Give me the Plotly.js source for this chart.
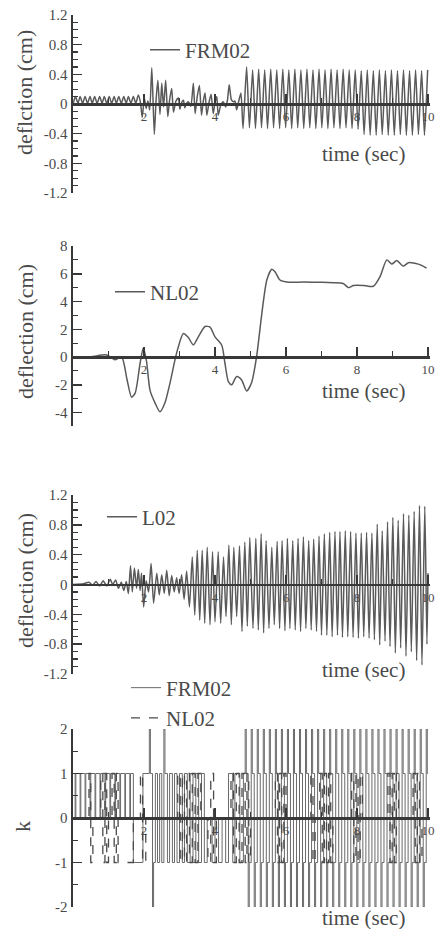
<!DOCTYPE html>
<html><head><meta charset="utf-8">
<script src="https://cdn.plot.ly/plotly-3.0.1.min.js"></script>
<style>html,body{margin:0;padding:0;background:#fff}</style>
</head><body><div id="chart" style="width:441px;height:929px"></div>
<script>
// ---------- DATA ----------
const xTickVals = [2, 4, 6, 8, 10];
const xTickText = ['2', '4', '6', '8', '10'];
const defTickVals = [-1.2, -0.8, -0.4, 0, 0.4, 0.8, 1.2];
const defTickText = ['-1.2', '-0.8', '-0.4', '0', '0.4', '0.8', '1.2'];
const nlTickVals = [-4, -2, 0, 2, 4, 6, 8];
const nlTickText = ['-4', '-2', '0', '2', '4', '6', '8'];
const kTickVals = [-2, -1, 0, 1, 2];
const kTickText = ['-2', '-1', '0', '1', '2'];

// Panel 1: FRM02 deflection (cm)
const frmT = [0, 0.07, 0.14, 0.2, 0.27, 0.34, 0.41, 0.48, 0.54, 0.61, 0.68, 0.75, 0.82, 0.88, 0.95, 1.02, 1.09, 1.16, 1.22, 1.29, 1.36, 1.43, 1.5, 1.56, 1.63, 1.7, 1.77, 1.84, 1.9,
  1.95, 2.01, 2.06, 2.11, 2.16, 2.22, 2.29, 2.34, 2.39, 2.45, 2.5, 2.55, 2.61, 2.67, 2.72, 2.78, 2.83, 2.9, 2.97, 3.01, 3.06, 3.11, 3.15, 3.2, 3.25, 3.32, 3.39, 3.44, 3.5, 3.56, 3.62, 3.67, 3.72, 3.77, 3.83, 3.89, 3.95, 4.0, 4.05, 4.09, 4.16, 4.23, 4.3, 4.35, 4.4, 4.46, 4.52, 4.56, 4.61, 4.66, 4.73, 4.79,
  4.89, 4.97, 5.06, 5.14, 5.23, 5.31, 5.4, 5.48, 5.57, 5.65, 5.74, 5.82, 5.91, 5.99, 6.08, 6.16, 6.25, 6.33, 6.42, 6.5, 6.59, 6.67, 6.76, 6.84, 6.93, 7.01, 7.1, 7.18, 7.27, 7.35, 7.44, 7.52, 7.61, 7.69, 7.78, 7.86, 7.95, 8.03, 8.12, 8.2, 8.29, 8.37, 8.46, 8.54, 8.63, 8.71, 8.8, 8.88, 8.97, 9.05, 9.14, 9.22, 9.31, 9.39, 9.48, 9.56, 9.65, 9.73, 9.82, 9.9, 9.99];
const frmY = [0, 0.1, 0.01, 0.1, 0.01, 0.1, 0.01, 0.1, 0.01, 0.1, 0.01, 0.1, 0.01, 0.1, 0.01, 0.1, 0.01, 0.1, 0.01, 0.1, 0.01, 0.1, 0.01, 0.1, 0.01, 0.1, 0.01, 0.12, 0.02,
  -0.18, 0.08, -0.06, 0.04, -0.08, 0.49, -0.41, 0.05, 0.32, -0.14, 0.28, -0.04, 0.32, -0.17, 0.05, 0.21, -0.11, 0.04, 0.08, -0.07, 0.02, 0.05, -0.05, 0.01, 0.03, -0.03, 0.28, -0.13, 0.1, 0.25, -0.15, 0.04, 0.15, -0.15, 0.02, 0.13, -0.13, 0.02, 0.1, -0.15, -0.02, 0.03, -0.04, 0.05, 0.26, 0.06, 0.03, 0.04, -0.08, 0.02, 0.15, -0.33,
  0.5, -0.32, 0.46, -0.33, 0.47, -0.32, 0.46, -0.33, 0.47, -0.32,
  0.46, -0.33, 0.47, -0.32, 0.46, -0.33, 0.47, -0.32, 0.46, -0.33,
  0.47, -0.32, 0.46, -0.33, 0.47, -0.32, 0.46, -0.33, 0.47, -0.32,
  0.46, -0.33, 0.47, -0.32, 0.46, -0.33, 0.46, -0.34, 0.45, -0.41,
  0.46, -0.42, 0.45, -0.42, 0.46, -0.41, 0.45, -0.42, 0.46, -0.42,
  0.45, -0.41, 0.46, -0.42, 0.45, -0.42, 0.46, -0.41, 0.45, -0.42,
  0.46];

// Panel 2: NL02 deflection (cm)
const nlT = [0, 0.5, 0.95, 1.18, 1.37, 1.52, 1.65, 1.75, 1.89, 1.98, 2.07, 2.17, 2.31, 2.45, 2.59, 2.73, 2.92, 3.11, 3.25, 3.39, 3.53, 3.72, 3.86, 4.0, 4.19, 4.28, 4.38, 4.47, 4.61, 4.75, 4.89, 5.03, 5.17, 5.32, 5.46, 5.6, 5.69, 5.83, 6.02, 6.5, 7.0, 7.33, 7.61, 7.76, 7.9, 8.2, 8.46, 8.65, 8.84, 8.98, 9.12, 9.3, 9.45, 9.63, 9.82, 9.96];
const nlY = [0, 0.02, 0.15, -0.2, 0, -1.6, -2.9, -2.6, -0.45, 0.65, -0.3, -2.4, -3.3, -3.95, -3.3, -1.9, 0.3, 1.7, 1.4, 0.87, 1.45, 2.2, 2.15, 1.45, 0.85, -0.45, -1.8, -2.0, -1.4, -1.65, -2.45, -1.85, 0, 3.15, 5.55, 6.33, 6.15, 5.55, 5.4, 5.4, 5.38, 5.35, 5.3, 5.0, 5.15, 5.15, 5.1, 5.8, 7.0, 6.7, 6.95, 6.55, 6.8, 6.75, 6.6, 6.4];

// Panel 3: L02 deflection (cm)
const lT = [0, 0.3, 0.45, 0.55, 0.65, 0.75, 0.85, 0.95, 1.05, 1.12, 1.2, 1.28, 1.36, 1.43, 1.5, 1.56, 1.62, 1.67, 1.73, 1.79, 1.84, 1.89, 1.93, 1.99, 2.06, 2.13, 2.2, 2.27, 2.36, 2.43, 2.5, 2.57, 2.64, 2.71, 2.78, 2.85, 2.92, 2.99, 3.06, 3.13, 3.2, 3.28,
  3.36, 3.43, 3.5, 3.57, 3.64, 3.71, 3.78, 3.86, 3.93, 4.0, 4.09, 4.16, 4.24, 4.31, 4.39, 4.46, 4.53, 4.61, 4.69, 4.76, 4.84, 4.91, 4.98, 5.07, 5.15, 5.22, 5.3, 5.37, 5.44, 5.52, 5.6, 5.67, 5.75, 5.82, 5.89, 5.97, 6.04, 6.11, 6.19, 6.26, 6.34, 6.41, 6.49, 6.56, 6.64, 6.71, 6.78, 6.86, 6.93, 7.0, 7.08, 7.15, 7.23, 7.3, 7.38, 7.45, 7.52, 7.59, 7.67, 7.74, 7.82, 7.89, 7.97, 8.04, 8.12, 8.19, 8.27, 8.34, 8.42, 8.49, 8.57, 8.64, 8.71, 8.79, 8.86, 8.93, 9.01, 9.08, 9.16, 9.23, 9.31, 9.38, 9.46, 9.53, 9.61, 9.68, 9.76, 9.83, 9.91, 9.97, 10.0];
const lY = [0, 0.01, 0.03, -0.01, 0.04, -0.02, 0.05, -0.02, 0.07, 0.0, 0.06, -0.05, 0.03, -0.08, 0.04, -0.12, 0.25, -0.1, 0.22, -0.05, 0.2, -0.08, 0.15, -0.3, 0.05, -0.1, 0.28, -0.25, 0.15, -0.14, 0.13, -0.12, 0.19, -0.15, 0.12, -0.1, 0.09, -0.12, 0.13, -0.2, 0.18, -0.3,
  0.37, -0.41, 0.46, -0.48, 0.46, -0.52, 0.5, -0.54, 0.44, -0.5, 0.44, -0.52, 0.37, -0.43, 0.53, -0.54, 0.5, -0.43, 0.52, -0.63, 0.57, -0.56, 0.63, -0.59, 0.62, -0.61, 0.68, -0.65, 0.59, -0.59, 0.5, -0.54, 0.58, -0.59, 0.59, -0.62, 0.62, -0.59, 0.59, -0.61, 0.62, -0.63, 0.64, -0.59, 0.59, -0.61, 0.61, -0.63, 0.65, -0.68, 0.68, -0.68, 0.7, -0.7, 0.71, -0.68, 0.71, -0.71, 0.72, -0.7, 0.71, -0.71, 0.69, -0.72, 0.69, -0.7, 0.7, -0.72, 0.69, -0.74, 0.81, -0.81, 0.72, -0.76, 0.84, -0.83, 0.9, -0.92, 0.86, -0.85, 0.95, -0.96, 0.93, -0.9, 0.98, -1.02, 1.06, -1.08, 1.05, -0.8, 0.15];

// Panel 4: k (step values)
const kFrmT = [0, 0.06, 0.08, 0.2, 0.22, 0.34, 0.36, 0.48, 0.5, 0.62, 0.64, 0.76, 0.78, 0.9, 0.92, 1.04, 1.06, 1.18, 1.2, 1.32, 1.34, 1.46, 1.48, 1.6, 1.62,
  1.7, 1.97, 2.15, 2.18, 2.24, 2.27, 2.32, 2.38, 2.44, 2.5, 2.56, 2.59, 2.66, 2.72, 2.8, 2.86, 2.93, 3.0, 3.08, 3.14, 3.22, 3.3, 3.38, 3.46, 3.54, 3.62, 3.7, 3.78, 3.92, 4.0, 4.1, 4.2, 4.3, 4.38, 4.5, 4.56, 4.7, 4.8,
  4.85, 4.88, 4.935, 4.965, 5.02, 5.05, 5.105, 5.135, 5.19, 5.22, 5.275, 5.305, 5.36, 5.39, 5.445, 5.475, 5.53, 5.56, 5.615, 5.645,
  5.70, 5.73, 5.785, 5.815, 5.87, 5.90, 5.955, 5.985, 6.04, 6.07, 6.125, 6.155, 6.21, 6.24, 6.295, 6.325, 6.38, 6.41, 6.465, 6.495,
  6.55, 6.58, 6.635, 6.665, 6.72, 6.75, 6.805, 6.835, 6.89, 6.92, 6.975, 7.005, 7.06, 7.09, 7.145, 7.175, 7.23, 7.26, 7.315, 7.345,
  7.40, 7.43, 7.485, 7.515, 7.57, 7.60, 7.655, 7.685, 7.74, 7.77, 7.825, 7.855, 7.91, 7.94, 7.995, 8.025, 8.08, 8.11, 8.165, 8.195,
  8.25, 8.28, 8.335, 8.365, 8.42, 8.45, 8.505, 8.535, 8.59, 8.62, 8.675, 8.705, 8.76, 8.79, 8.845, 8.875, 8.93, 8.96, 9.015, 9.045,
  9.10, 9.13, 9.185, 9.215, 9.27, 9.30, 9.355, 9.385, 9.44, 9.47, 9.525, 9.555, 9.61, 9.64, 9.695, 9.725, 9.78, 9.81, 9.865, 9.895,
  9.95, 9.98, 10.0];
const kFrm = [1, 0, 1, 0, 1, 0, 1, 0, 1, 0, 1, 0, 1, 0, 1, 0, 1, 0, 1, 0, 1, 0, 1, 0, 1,
  -1, 1, 2, 1, -2, -1, 1, -1, 1, -1, 2, 1, -1, 1, -1, 1, -1, 1, -1, 1, -1, 1, -1, 1, -1, 1, -1, 0, -1, 0, -1, 0, -1, 1, -1, 1, -1, 1,
  2, 1, -2, -1, 2, 1, -2, -1, 2, 1, -2, -1, 2, 1, -2, -1, 2, 1, -2, -1,
  2, 1, -2, -1, 2, 1, -2, -1, 2, 1, -2, -1, 2, 1, -2, -1, 2, 1, -2, -1,
  2, 1, -2, -1, 2, 1, -2, -1, 2, 1, -2, -1, 2, 1, -2, -1, 2, 1, -2, -1,
  2, 1, -2, -1, 2, 1, -2, -1, 2, 1, -2, -1, 2, 1, -2, -1, 2, 1, -2, -1,
  2, 1, -2, -1, 2, 1, -2, -1, 2, 1, -2, -1, 2, 1, -2, -1, 2, 1, -2, -1,
  2, 1, -2, -1, 2, 1, -2, -1, 2, 1, -2, -1, 2, 1, -2, -1, 2, 1, -2, -1,
  2, 1, 1];
const kNlT = [0, 0.45, 0.5, 0.56, 0.78, 0.84, 0.9, 0.95, 1.0, 1.1, 1.16, 1.22, 1.27, 1.7, 1.9, 1.96, 2.05, 2.95, 3.02, 3.08, 3.14, 3.2, 3.28, 3.36, 3.44, 3.52, 3.6, 3.8, 3.88, 3.96, 4.04, 4.45, 4.52, 4.6, 4.68, 4.76, 4.85, 4.9, 4.95, 5.0, 5.7, 5.76, 5.82, 5.88, 5.94, 6.0, 6.7, 6.76, 6.82, 6.95, 7.02, 7.08, 7.14, 7.2, 7.26, 7.32, 7.85, 7.91, 7.97, 8.03, 8.09, 8.15, 8.87, 8.93, 8.99, 9.05, 9.11, 9.17, 9.58, 9.64, 9.7, 9.76, 9.83, 10.0];
const kNl = [0, 1, -1, 0, 1, -1, 1, -1, 0, 1, -1, 1, -1, 0, 1, -1, 0, 1, -1, 1, -1, 1, -1, 1, -1, 1, 0, -1, 1, -1, 0, 1, -1, 1, -1, 1, -1, 1, -1, 0, 1, -1, 1, -1, 1, 0, 1, -1, 0, 1, -1, 1, -1, 1, -1, 0, 1, -1, 1, -1, 1, 0, 1, -1, 1, -1, 1, 0, 1, -1, 1, -1, 0, 0];

// ---------- LAYOUT HELPERS ----------
const W = 441, H = 929;
const SERIF = 'Liberation Serif';
const LINE = '#5a5a5a';
const AX = '#383838';
const TXT = '#4a4a4a';
const xL = 73, xR = 430;
const xMax = 10 * (xR - xL) / (428 - xL);
function pf(p) { return 1 - p / H; }

const panels = [
  {top: 15, bot: 193, r: [-1.2, 1.2], tv: defTickVals, tt: defTickText, minor: 0.1},
  {top: 246, bot: 426.4, r: [-5, 8], tv: nlTickVals, tt: nlTickText, minor: 1},
  {top: 495, bot: 674, r: [-1.2, 1.2], tv: defTickVals, tt: defTickText, minor: 0.1},
  {top: 729, bot: 907, r: [-2, 2], tv: kTickVals, tt: kTickText, minor: 0.5}
];

const layout = {
  width: W, height: H, autosize: false,
  margin: {l: 0, r: 0, t: 0, b: 0},
  paper_bgcolor: '#fff', plot_bgcolor: 'rgba(0,0,0,0)',
  font: {family: SERIF, color: TXT},
  showlegend: true,
  annotations: [], shapes: []
};

panels.forEach((p, i) => {
  const n = i === 0 ? '' : String(i + 1);
  const d0 = pf(p.bot), d1 = pf(p.top);
  const zeroPos = d0 + (0 - p.r[0]) / (p.r[1] - p.r[0]) * (d1 - d0);
  layout['xaxis' + n] = {
    domain: [xL / W, xR / W], range: [0, xMax], anchor: 'free', position: zeroPos,
    showline: true, linecolor: AX, linewidth: 2.5,
    ticks: 'inside', ticklen: 9, tickwidth: 1.5, tickcolor: AX,
    tickmode: 'array', tickvals: xTickVals, ticktext: xTickText,
    tickfont: {family: SERIF, size: 13, color: TXT},
    minor: {tickmode: 'linear', tick0: 0, dtick: 1, ticks: 'inside', ticklen: 5, tickwidth: 1.2, tickcolor: AX, showgrid: false},
    showgrid: false, zeroline: false, fixedrange: true
  };
  layout['yaxis' + n] = {
    domain: [d0, d1], range: p.r, anchor: 'x' + n,
    showline: true, linecolor: AX, linewidth: 2.5,
    ticks: 'inside', ticklen: 9, tickwidth: 1.5, tickcolor: AX,
    tickmode: 'array', tickvals: p.tv, ticktext: p.tt,
    tickfont: {family: SERIF, size: 15, color: TXT},
    minor: {tickmode: 'linear', tick0: 0, dtick: p.minor, ticks: 'inside', ticklen: 5, tickwidth: 1.2, tickcolor: AX, showgrid: false},
    showgrid: false, zeroline: false, fixedrange: true
  };
});

// axis titles
const yTitles = [
  {text: 'deflction (cm)', x: 24, y: 93},
  {text: 'deflection (cm)', x: 25, y: 332},
  {text: 'deflection (cm)', x: 25, y: 581},
  {text: 'k', x: 22, y: 827}
];
yTitles.forEach(t => layout.annotations.push({
  text: t.text, xref: 'paper', yref: 'paper', x: t.x / W, y: pf(t.y),
  xanchor: 'center', yanchor: 'middle', textangle: -90, showarrow: false,
  font: {family: SERIF, size: 22, color: TXT}
}));
[154, 391, 670, 918].forEach(yy => layout.annotations.push({
  text: 'time (sec)', xref: 'paper', yref: 'paper', x: 363 / W, y: pf(yy),
  xanchor: 'center', yanchor: 'middle', showarrow: false,
  font: {family: SERIF, size: 21, color: TXT}
}));

// legends
const legFont = {family: SERIF, size: 21, color: TXT};
function leg(x, y) {
  return {x: x / W, y: pf(y), xanchor: 'left', yanchor: 'middle', xref: 'paper', yref: 'paper',
    bgcolor: 'rgba(0,0,0,0)', borderwidth: 0, font: legFont, itemclick: false, itemdoubleclick: false, tracegroupgap: 0};
}
layout.legend = leg(145, 50);
layout.legend2 = leg(110, 292);
layout.legend3 = leg(102, 517);
layout.legend4 = leg(126, 703);

const traces = [
  {x: frmT, y: frmY, xaxis: 'x', yaxis: 'y', name: 'FRM02', legend: 'legend', type: 'scatter', mode: 'lines',
    line: {color: LINE, width: 1.5, shape: 'spline', smoothing: 0.6}},
  {x: nlT, y: nlY, xaxis: 'x2', yaxis: 'y2', name: 'NL02', legend: 'legend2', type: 'scatter', mode: 'lines',
    line: {color: LINE, width: 1.5, shape: 'spline', smoothing: 0.7}},
  {x: lT, y: lY, xaxis: 'x3', yaxis: 'y3', name: 'L02', legend: 'legend3', type: 'scatter', mode: 'lines',
    line: {color: LINE, width: 1.5, shape: 'spline', smoothing: 0.6}},
  {x: kFrmT, y: kFrm, xaxis: 'x4', yaxis: 'y4', name: 'FRM02', legend: 'legend4', type: 'scatter', mode: 'lines',
    line: {color: '#6a6a6a', width: 1, shape: 'hv'}},
  {x: kNlT, y: kNl, xaxis: 'x4', yaxis: 'y4', name: 'NL02', legend: 'legend4', type: 'scatter', mode: 'lines',
    line: {color: '#4a4a4a', width: 1.3, shape: 'hv', dash: 'dash'}}
];

Plotly.newPlot('chart', traces, layout, {displayModeBar: false, staticPlot: true});
</script></body></html>
